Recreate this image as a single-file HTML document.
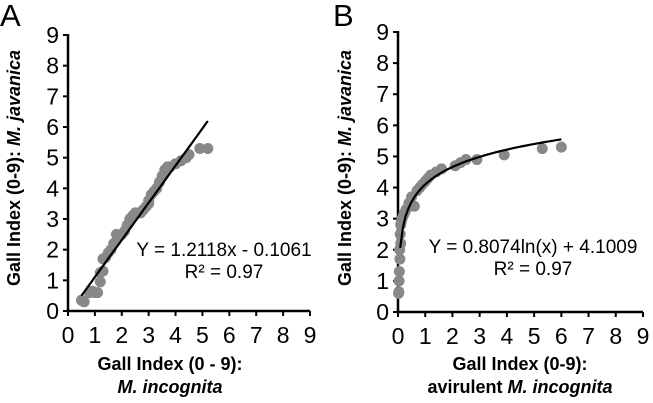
<!DOCTYPE html>
<html><head><meta charset="utf-8"><style>
body{margin:0;background:#fff;}
svg{display:block;font-family:"Liberation Sans",Arial,sans-serif;}
</style></head><body>
<svg id="c" width="653" height="403" xmlns="http://www.w3.org/2000/svg"></svg>
<script>
const ticks=[0,1,2,3,4,5,6,7,8,9];
const aX=[0.5,0.6,0.8,0.9,1.0,1.1,1.2,1.2,1.3,1.3,1.4,1.5,1.6,1.7,1.8,1.9,2.0,2.1,2.2,2.3,2.4,2.5,2.6,2.7,2.8,2.9,3.0,3.0,3.1,3.2,3.3,3.4,3.5,3.6,3.7,3.8,4.0,4.2,4.4,4.5,4.9,5.2];
const aY=[0.35,0.3,0.6,0.65,0.6,0.6,0.95,1.25,1.7,1.3,1.75,1.9,2.0,2.2,2.5,2.45,2.5,2.6,2.8,3.0,3.1,3.2,3.2,3.2,3.3,3.4,3.5,3.6,3.8,3.9,4.0,4.2,4.4,4.6,4.7,4.7,4.8,4.9,5.0,5.1,5.3,5.3];
const aSlope=1.2118, aInt=-0.1061, aLineX=[0.5,5.2];
const bX=[0.02,0.03,0.04,0.05,0.06,0.07,0.08,0.1,0.1,0.12,0.15,0.2,0.25,0.3,0.4,0.5,0.6,0.7,0.8,0.9,1.0,1.1,1.2,1.4,1.6,2.1,2.3,2.5,2.9,3.9,5.3,6.0];
const bY=[0.6,0.65,1.0,1.3,2.0,1.7,2.5,2.8,2.2,2.9,3.0,3.1,3.2,3.3,3.5,3.7,3.4,3.9,4.0,4.1,4.2,4.3,4.4,4.5,4.6,4.7,4.8,4.9,4.9,5.05,5.25,5.3];
const bA=0.8074, bB=4.1009, bLineX=[0.08,6.0];
const NS="http://www.w3.org/2000/svg", svg=document.getElementById('c');
function el(t,a,p){const e=document.createElementNS(NS,t);for(const k in a)e.setAttribute(k,a[k]);(p||svg).appendChild(e);return e;}
function panel(cfg){
  const g=el('g',{});
  
  
  const sx=v=>cfg.x0+(cfg.x9-cfg.x0)*v/9, sy=v=>cfg.y0-(cfg.y0-cfg.y9)*v/9;
  const ax=el('path',{d:`M${cfg.x0},${sy(9)-1}V${cfg.y0}H${sx(9)}`,stroke:'#000','stroke-width':2.5,fill:'none'},g);
  
  
  ticks.forEach(t=>{
    el('line',{x1:cfg.x0-5,x2:cfg.x0,y1:sy(t),y2:sy(t),stroke:'#000','stroke-width':2},g);
    el('line',{x1:sx(t),x2:sx(t),y1:cfg.y0,y2:cfg.y0+5,stroke:'#000','stroke-width':2},g);
    const yl=el('text',{x:cfg.x0-9,y:sy(t)+8,'text-anchor':'end','font-size':23},g);yl.textContent=t;
    
    
    const xl=el('text',{x:sx(t),y:cfg.y0+32,'text-anchor':'middle','font-size':23},g);xl.textContent=t;
    
    
  });
  cfg.xs.forEach((x,i)=>{
    const c=el('circle',{cx:sx(x),cy:sy(cfg.ys[i]),r:5.5,fill:'#888'},g);
    
    
  });
  let d='';
  const n=60;
  for(let i=0;i<=n;i++){const x=cfg.lx[0]+(cfg.lx[1]-cfg.lx[0])*i/n;d+=(i?'L':'M')+sx(x).toFixed(1)+','+sy(cfg.f(x)).toFixed(1);}
  const tl=el('path',{d,stroke:'#000','stroke-width':2.2,fill:'none'},g);
  
  
  return g;
}
panel({name:'panel-a',x0:68,x9:310,y0:311,y9:35,xs:aX,ys:aY,lx:aLineX,f:x=>aSlope*x+aInt});
panel({name:'panel-b',x0:398,x9:643,y0:312,y9:32,xs:bX,ys:bY,lx:bLineX,f:x=>bA*Math.log(x)+bB});
</script>
<svg style="position:absolute;left:0;top:0" width="653" height="403" font-family="Liberation Sans,Arial,sans-serif">
<text x="0" y="26" font-size="31">A</text>
<text x="333" y="26" font-size="31">B</text>
<text transform="translate(20,168) rotate(-90)" text-anchor="middle" font-size="18" font-weight="bold">Gall Index (0-9): <tspan font-style="italic">M. javanica</tspan></text>
<text transform="translate(351,168) rotate(-90)" text-anchor="middle" font-size="18" font-weight="bold">Gall Index (0-9): <tspan font-style="italic">M. javanica</tspan></text>
<text x="170" y="370" text-anchor="middle" font-size="18" font-weight="bold">Gall Index (0 - 9):</text>
<text x="170" y="393" text-anchor="middle" font-size="18" font-weight="bold" font-style="italic">M. incognita</text>
<text x="520" y="370" text-anchor="middle" font-size="18" font-weight="bold">Gall Index (0-9):</text>
<text x="520" y="393" text-anchor="middle" font-size="18" font-weight="bold">avirulent <tspan font-style="italic">M. incognita</tspan></text>
<text x="224" y="256" text-anchor="middle" font-size="19">Y = 1.2118x - 0.1061</text>
<text x="224" y="278" text-anchor="middle" font-size="19">R² = 0.97</text>
<text x="533" y="253" text-anchor="middle" font-size="19">Y = 0.8074ln(x) + 4.1009</text>
<text x="533" y="275" text-anchor="middle" font-size="19">R² = 0.97</text>
</svg>
</body></html>
